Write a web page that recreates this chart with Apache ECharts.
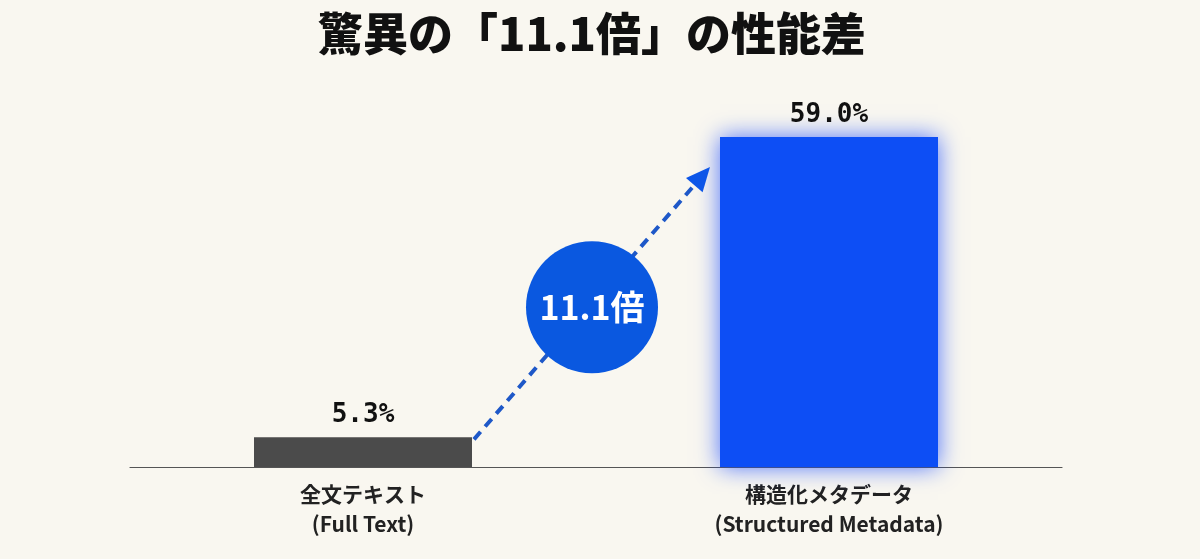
<!DOCTYPE html>
<html>
<head>
<meta charset="utf-8">
<script src="https://cdn.jsdelivr.net/npm/echarts@6/dist/echarts.min.js"></script>
<style>
  html, body { margin: 0; padding: 0; background: #f9f7f0; }
  #main { width: 1200px; height: 559px; }
</style>
</head>
<body>
<div id="main"></div>
<script>
// データ
var categories = ['全文テキスト\n(Full Text)', '構造化メタデータ\n(Structured Metadata)'];
var values = [5.3, 59.0];
var ratioText = '11.1倍';
var titleText = '驚異の「11.1倍」の性能差';

var barW = 218;
var cjk = '"Noto Sans CJK JP", "Noto Sans", sans-serif';

var myChart = echarts.init(document.getElementById('main'));
var option = {
    backgroundColor: '#f9f7f0',
    animation: false,
    title: {
        text: titleText,
        left: 313,
        top: 6,
        textStyle: { fontFamily: cjk, fontSize: 45, fontWeight: 900, color: '#111111' }
    },
    grid: { left: 130, right: 138, top: 137, bottom: 92 },
    xAxis: {
        type: 'category',
        data: categories,
        axisLine: { lineStyle: { color: '#555555', width: 1.2 } },
        axisTick: { show: false },
        axisLabel: {
            fontFamily: cjk, fontSize: 21, fontWeight: 'bold', color: '#222222',
            lineHeight: 30, margin: 12
        }
    },
    yAxis: {
        type: 'value',
        min: 0,
        max: 59,
        show: false,
        splitLine: { show: false }
    },
    series: [{
        type: 'bar',
        barWidth: barW,
        data: [
            { value: values[0], itemStyle: { color: '#4b4b4b' } },
            {
                value: values[1],
                itemStyle: {
                    color: '#0d4ef5',
                    shadowBlur: 22,
                    shadowColor: 'rgba(20,70,255,0.75)'
                }
            }
        ],
        label: {
            show: true,
            position: 'top',
            distance: 9,
            fontFamily: '"DejaVu Sans Mono", monospace',
            fontSize: 26,
            fontWeight: 'bold',
            color: '#111111',
            formatter: function (p) { return p.value.toFixed(1) + '%'; }
        }
    }]
};
myChart.setOption(option);

// 矢印と倍率の円
var p0 = myChart.convertToPixel({ gridIndex: 0 }, [0, values[0]]);
var p1 = myChart.convertToPixel({ gridIndex: 0 }, [1, values[1]]);
var sx = p0[0] + barW / 2 + 2, sy = p0[1] + 2;
var ex = p1[0] - barW / 2 - 10, ey = p1[1] + 30;
var ang = Math.atan2(ey - sy, ex - sx);
var headLen = 24, headW = 11;
var bx = ex - headLen * Math.cos(ang), by = ey - headLen * Math.sin(ang);
var nx = -Math.sin(ang), ny = Math.cos(ang);
var cx = (sx + ex) / 2, cy = (sy + ey) / 2 + 4;

myChart.setOption({
    graphic: [
        {
            type: 'line',
            shape: { x1: sx, y1: sy, x2: bx, y2: by },
            style: { stroke: '#1e58c8', lineWidth: 4, lineDash: [10, 7] },
            z: 10
        },
        {
            type: 'polygon',
            shape: { points: [[ex, ey], [bx + nx * headW, by + ny * headW], [bx - nx * headW, by - ny * headW]] },
            style: { fill: '#0d56e8' },
            z: 10
        },
        {
            type: 'circle',
            shape: { cx: cx, cy: cy, r: 66 },
            style: { fill: '#0a58e0' },
            z: 11
        },
        {
            type: 'text',
            x: cx,
            y: cy,
            style: {
                text: ratioText,
                fill: '#ffffff',
                font: 'bold 34px ' + cjk,
                align: 'center',
                verticalAlign: 'middle'
            },
            z: 12
        }
    ]
});
</script>
</body>
</html>
